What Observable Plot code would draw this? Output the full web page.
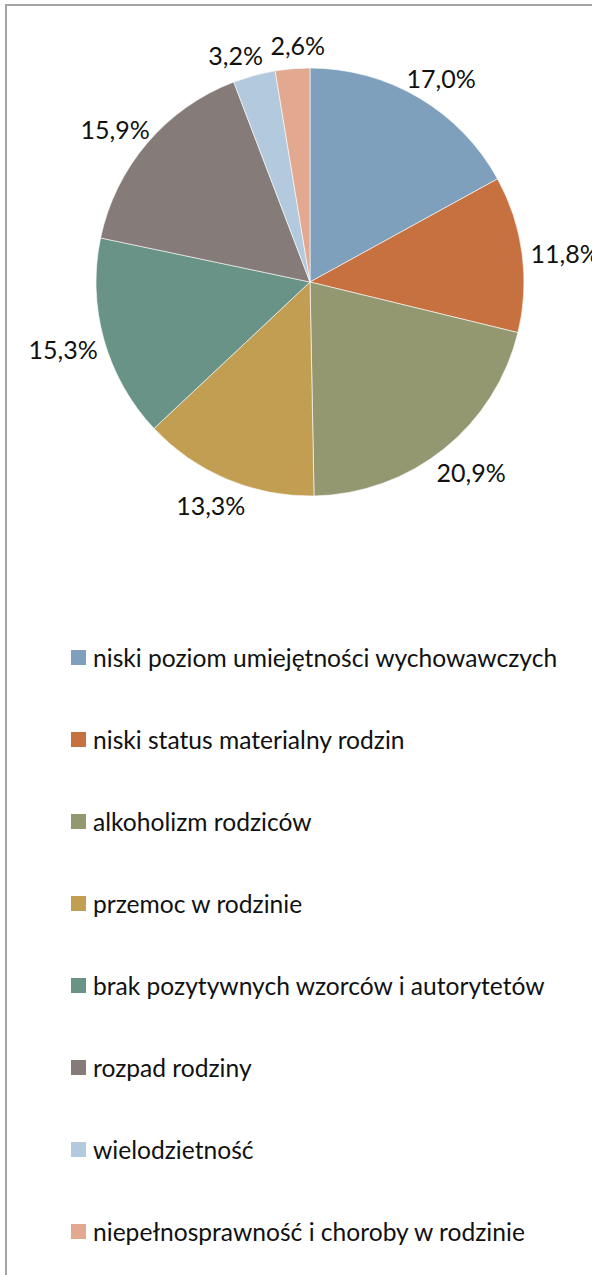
<!DOCTYPE html>
<html>
<head>
<meta charset="utf-8">
<script src="https://cdn.jsdelivr.net/npm/d3@7"></script>
<script src="https://cdn.jsdelivr.net/npm/@observablehq/plot@0.6"></script>
<style>
  html, body { margin: 0; padding: 0; background: #fff; }
  body { width: 592px; height: 1275px; position: relative; overflow: hidden; font-family: Lato, "Open Sans", sans-serif; }
  #frame { position: absolute; left: 5px; top: 4px; width: 800px; height: 1400px; border-left: 2px solid #a3a3a3; border-top: 2px solid #a3a3a3; box-sizing: border-box; }
  #chart { position: absolute; left: 0; top: 0; }
  #legend { position: absolute; left: 71px; top: 0; }
  .item { position: absolute; left: 0; display: flex; align-items: center; white-space: nowrap; font-size: 24.6px; color: #111; }
  .sw { width: 15px; height: 15px; margin-right: 7px; flex: none; }
</style>
</head>
<body>
<div id="frame"></div>
<div id="chart"></div>
<div id="legend"></div>
<script>
const categories = [
  "niski poziom umiejętności wychowawczych",
  "niski status materialny rodzin",
  "alkoholizm rodziców",
  "przemoc w rodzinie",
  "brak pozytywnych wzorców i autorytetów",
  "rozpad rodziny",
  "wielodzietność",
  "niepełnosprawność i choroby w rodzinie"
];
const values = [17.0, 11.8, 20.9, 13.3, 15.3, 15.9, 3.2, 2.6];
const colors = ["#7FA0BC", "#C6713F", "#939871", "#C19E52", "#699387", "#857B78", "#B3C9DD", "#E2A890"];

const color = Plot.scale({color: {type: "ordinal", domain: categories, range: colors}});

const arcs = d3.pie().sort(null).value(d => d.value)(
  categories.map((c, i) => ({category: c, value: values[i]}))
);
const fmt = v => v.toFixed(1).replace(".", ",") + "%";
const labelFont = "25px Lato, 'Open Sans', sans-serif";

// label layout: outside the pie on the mid-angle, then push apart colliding labels
const R = 214, kx = 1.20, ky = 1.12;
const ctx = document.createElement("canvas").getContext("2d");
ctx.font = labelFont;
const labelData = arcs.map(a => ({
  category: a.data.category,
  value: a.data.value,
  angle: (a.startAngle + a.endAngle) / 2,
  w: ctx.measureText(fmt(a.data.value)).width + 6,
  h: 26
}));
const pos = d => [Math.sin(d.angle) * kx * R, -Math.cos(d.angle) * ky * R];
for (let it = 0; it < 300; it++) {
  let moved = false;
  for (let i = 0; i < labelData.length; i++) {
    const a = labelData[i], b = labelData[(i + 1) % labelData.length];
    const [ax, ay] = pos(a), [bx, by] = pos(b);
    if (Math.abs(ax - bx) < (a.w + b.w) / 2 && Math.abs(ay - by) < (a.h + b.h) / 2) {
      a.angle -= 0.004; b.angle += 0.004; moved = true;
    }
  }
  if (!moved) break;
}

function pieMark(index, scales) {
  const cx = scales.x(0), cy = scales.y(0);
  const r = scales.x(1) - scales.x(0);
  const arc = d3.arc().innerRadius(0).outerRadius(r);
  const g = d3.create("svg:g").attr("transform", `translate(${cx},${cy})`);
  g.selectAll("path").data(arcs).join("path")
    .attr("d", arc)
    .attr("fill", d => color.apply(d.data.category))
    .attr("stroke", "#fff")
    .attr("stroke-width", 0.6);
  return g.node();
}

const plot = Plot.plot({
  width: 592,
  height: 560,
  x: {domain: [-1, 1], range: [96, 524], axis: null},
  y: {domain: [-1, 1], range: [496, 68], axis: null},
  style: {background: "transparent", overflow: "visible"},
  marks: [
    pieMark,
    Plot.text(labelData, {
      x: d => Math.sin(d.angle) * kx,
      y: d => Math.cos(d.angle) * ky,
      text: d => fmt(d.value),
      fontSize: 25,
      fontFamily: "Lato, 'Open Sans', sans-serif",
      fill: "#111",
      textAnchor: "middle",
      dy: 4
    })
  ]
});
document.getElementById("chart").appendChild(plot);

const legend = document.getElementById("legend");
const rowTop = 657, rowGap = 82;
categories.forEach((c, i) => {
  const item = document.createElement("div");
  item.className = "item";
  item.style.top = (rowTop + i * rowGap - 16) + "px";
  item.style.height = "32px";
  const sw = document.createElement("span");
  sw.className = "sw";
  sw.style.background = color.apply(c);
  const t = document.createElement("span");
  t.textContent = c;
  item.appendChild(sw);
  item.appendChild(t);
  legend.appendChild(item);
});
</script>
</body>
</html>
